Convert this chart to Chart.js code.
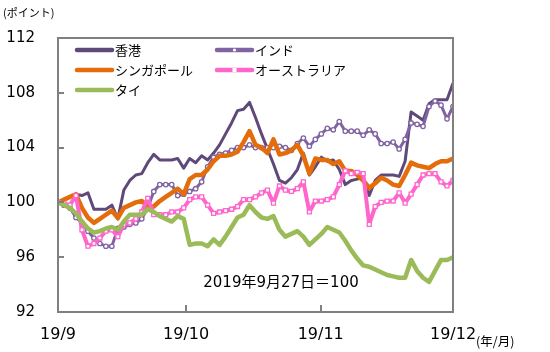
<!DOCTYPE html>
<html><head><meta charset="utf-8">
<script src="https://cdn.jsdelivr.net/npm/chart.js@4/dist/chart.umd.min.js"></script>
<style>html,body{margin:0;padding:0;background:#fff}#wrap{width:550px;height:352px;position:relative}</style>
</head><body><div id="wrap"><canvas id="c" width="550" height="352"></canvas></div>
<script>
// ---- data (index, 2019/9/27 = 100) ----
const seriesNames = ['香港', 'インド', 'シンガポール', 'オーストラリア', 'タイ'];
const hongKong = [100.0,100.2,100.4,100.6,100.5,100.7,99.5,99.5,99.5,99.8,98.8,100.9,101.6,102.0,102.1,102.9,103.5,103.1,103.1,103.1,103.2,102.5,103.2,102.9,103.4,103.1,103.6,104.2,105.0,105.8,106.7,106.8,107.3,106.2,105.0,103.9,102.8,101.6,101.4,101.8,102.4,103.6,102.0,102.6,103.3,103.0,103.1,102.4,101.3,101.6,101.7,101.8,100.5,101.6,102.0,102.0,102.0,101.9,103.0,106.6,106.3,106.0,107.2,107.5,107.5,107.5,108.7];
const india = [100.0,99.8,99.6,98.9,98.5,97.9,97.4,97.0,96.8,96.8,98.1,98.2,98.4,98.5,98.8,99.6,100.8,101.3,101.3,101.3,100.5,100.6,100.8,101.0,101.5,102.6,103.3,103.5,103.6,103.8,104.0,104.0,104.2,104.0,104.0,104.0,104.0,104.1,104.0,103.8,104.3,104.7,104.1,104.6,105.0,105.4,105.3,105.9,105.2,105.2,105.2,104.9,105.3,105.0,104.3,104.3,104.4,103.9,104.6,105.8,105.7,105.55,107.0,107.4,107.1,106.1,107.0];
const singapore = [100.0,100.2,100.4,100.6,99.6,98.9,98.5,98.8,99.1,99.4,98.85,99.6,99.8,100.0,100.1,99.7,99.7,100.1,100.4,100.7,101.0,100.6,101.7,102.0,102.0,102.4,103.0,103.4,103.4,103.5,103.7,104.4,105.2,104.2,104.0,103.6,104.6,103.5,103.6,103.8,104.2,103.4,102.1,103.2,103.1,103.1,102.8,103.0,102.3,102.3,102.0,101.6,101.05,101.4,101.8,101.6,101.3,101.2,102.0,102.9,102.7,102.6,102.5,102.8,103.0,103.0,103.2];
const australia = [100.0,99.9,99.8,100.5,98.0,96.8,97.0,97.4,97.9,98.0,97.5,98.4,98.5,98.8,99.3,100.3,99.1,99.1,99.1,99.3,99.3,99.6,100.2,100.4,100.4,99.8,99.2,99.3,99.4,99.5,99.7,100.2,100.2,100.4,100.7,100.9,99.95,101.2,100.9,100.8,101.0,101.5,99.3,100.1,100.1,100.2,100.4,101.3,102.3,102.1,102.2,102.1,98.4,99.7,100.0,100.1,100.1,100.7,99.95,100.6,101.3,102.0,102.1,102.1,101.5,101.2,101.6];
const thailand = [100.0,99.8,99.6,99.2,98.6,98.1,97.8,97.9,98.1,98.2,98.0,98.6,99.1,99.1,99.1,99.5,99.3,99.0,98.8,98.6,99.0,98.8,96.9,97.0,97.0,96.8,97.3,96.9,97.5,98.2,98.9,99.1,99.8,99.3,98.9,98.8,99.0,98.0,97.5,97.7,97.9,97.5,96.9,97.3,97.7,98.2,98.0,97.8,97.2,96.5,95.9,95.4,95.3,95.1,94.9,94.7,94.6,94.5,94.5,95.8,95.0,94.5,94.2,95.0,95.8,95.8,96.0];
const xTickPositions = [0, 21.4, 43.9, 66];
const xTickLabels = ['19/9', '19/10', '19/11', '19/12'];
const yTickValues = [92, 96, 100, 104, 108, 112];
const unitLabel = '(ポイント)';
const xUnitLabel = '(年/月)';
const baseNote = '2019年9月27日＝100';

const days = hongKong.map((_, i) => i);
const pts = arr => arr.map((v, i) => ({ x: days[i], y: v }));

const colors = ['#5F497A', '#8064A2', '#E46C0A', '#FF66CC', '#9BBB59'];
const widths = [3, 3, 4.5, 4, 4.5];
const values = [hongKong, india, singapore, australia, thailand];
const markers = [false, 'circle', false, 'rect', false];

const datasets = values.map((arr, k) => ({
  label: seriesNames[k],
  data: pts(arr),
  borderColor: colors[k],
  backgroundColor: colors[k],
  borderWidth: widths[k],
  tension: 0,
  fill: false,
  order: 5 - k,
  pointStyle: markers[k] || 'circle',
  pointRadius: markers[k] === 'circle' ? 2.2 : (markers[k] === 'rect' ? 2.8 : 0),
  pointBackgroundColor: '#fff',
  pointBorderColor: colors[k],
  pointBorderWidth: 1.3,
  pointHoverRadius: 0
}));

const CJK = '"Noto Sans CJK JP", sans-serif';
const frameColor = '#808080';

const decor = {
  id: 'decor',
  afterDraw(chart) {
    const { ctx, chartArea: a, scales } = chart;
    ctx.save();
    const L = Math.round(a.left), R = Math.round(a.right), T = Math.round(a.top), B = Math.round(a.bottom);
    ctx.fillStyle = frameColor;
    ctx.fillRect(L - 1, T - 1, R - L + 2, 2);
    ctx.fillRect(L - 1, B - 1, R - L + 2, 2);
    ctx.fillRect(L - 1, T - 1, 2, B - T + 2);
    ctx.fillRect(R - 1, T - 1, 2, B - T + 2);
    yTickValues.forEach(v => {
      const y = Math.round(scales.y.getPixelForValue(v));
      ctx.fillRect(L, y - 1, 6, 2);
    });
    xTickPositions.forEach(v => {
      const x = Math.round(scales.x.getPixelForValue(v));
      ctx.fillRect(x - 1, B - 7, 2, 7);
    });
    // legend
    const cols = [a.left + 19, a.left + 159];
    const rows = [a.top + 12, a.top + 32, a.top + 52];
    chart.data.datasets.forEach((ds, k) => {
      const x0 = cols[k % 2], y0 = rows[Math.floor(k / 2)];
      ctx.strokeStyle = ds.borderColor;
      ctx.lineWidth = 4.5;
      ctx.lineCap = 'round';
      ctx.beginPath(); ctx.moveTo(x0, y0); ctx.lineTo(x0 + 35, y0); ctx.stroke();
      if (markers[k]) {
        ctx.fillStyle = '#fff';
        const cx = x0 + 17.5;
        if (markers[k] === 'circle') {
          ctx.beginPath(); ctx.arc(cx, y0, 1.6, 0, Math.PI * 2); ctx.fill();
        } else {
          ctx.fillRect(cx - 2, y0 - 2, 4, 4);
        }
      }
      ctx.fillStyle = '#000';
      ctx.font = '13px ' + CJK;
      ctx.textAlign = 'left';
      ctx.textBaseline = 'middle';
      ctx.fillText(ds.label, x0 + 38, y0);
    });
    ctx.fillStyle = '#000';
    ctx.font = '15px "DejaVu Sans", ' + CJK;
    ctx.textAlign = 'center';
    ctx.textBaseline = 'middle';
    ctx.fillText(baseNote, 281, 283);
    ctx.font = '11px ' + CJK;
    ctx.textAlign = 'left';
    ctx.fillText(unitLabel, 3, 13);
    ctx.font = '12.5px ' + CJK;
    ctx.fillText(xUnitLabel, 476, 341);
    ctx.restore();
  }
};

new Chart(document.getElementById('c'), {
  type: 'line',
  data: { datasets },
  plugins: [decor],
  options: {
    responsive: false,
    animation: false,
    devicePixelRatio: 1,
    layout: { padding: { top: 38, right: 97, left: 0, bottom: 0 } },
    plugins: { legend: { display: false }, tooltip: { enabled: false } },
    elements: { line: { borderCapStyle: 'round', borderJoinStyle: 'round' } },
    scales: {
      x: {
        type: 'linear', min: 0, max: 66,
        grid: { display: false, drawTicks: false },
        border: { display: true, color: frameColor, width: 2 },
        afterBuildTicks: s => { s.ticks = xTickPositions.map(v => ({ value: v })); },
        afterFit: s => { s.height = 40; },
        ticks: {
          autoSkip: false, maxRotation: 0, minRotation: 0, padding: 13,
          color: '#000', font: { family: 'DejaVu Sans', size: 16 },
          callback: (v, i) => xTickLabels[i]
        }
      },
      y: {
        min: 92, max: 112,
        grid: { display: false, drawTicks: false },
        border: { display: true, color: frameColor, width: 2 },
        afterBuildTicks: s => { s.ticks = yTickValues.map(v => ({ value: v })); },
        afterFit: s => { s.width = 58; },
        ticks: {
          padding: 23, color: '#000', font: { family: 'DejaVu Sans', size: 15 },
          callback: v => String(v)
        }
      }
    }
  }
});
</script></body></html>
